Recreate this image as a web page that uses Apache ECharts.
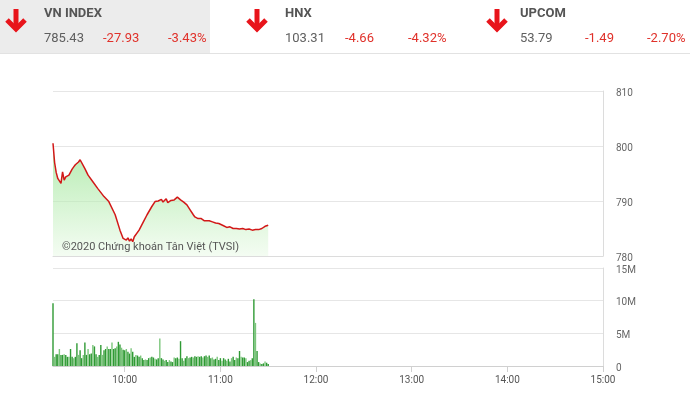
<!DOCTYPE html>
<html>
<head>
<meta charset="utf-8">
<script src="https://cdn.jsdelivr.net/npm/echarts@6/dist/echarts.min.js"></script>
<style>
html,body{margin:0;padding:0;background:#fff;}
#chart{width:690px;height:394px;}
</style>
</head>
<body>
<div id="chart"></div>
<script>
// ---- Header data ----
const indexNames = ['VN INDEX', 'HNX', 'UPCOM'];
const indexValues = ['785.43', '103.31', '53.79'];
const indexChanges = ['-27.93', '-4.66', '-1.49'];
const indexPercents = ['-3.43%', '-4.32%', '-2.70%'];

// ---- Price line (time, index value) ----
const priceTimes = ['9:15','9:16','9:17','9:18','9:20','9:21','9:22','9:23','9:24','9:25','9:26','9:27','9:28','9:29','9:30','9:31','9:32','9:33','9:35','9:37','9:40','9:43','9:47','9:50','9:54','9:57','9:59',
  '10:01','10:02','10:03','10:04','10:05','10:06','10:09','10:12','10:14','10:17','10:19','10:20','10:21','10:23','10:24','10:25','10:26','10:27','10:28','10:29','10:30','10:31','10:33','10:35','10:37','10:39','10:41','10:43','10:44','10:45','10:46','10:47','10:48','10:50','10:51','10:53','10:54','10:55','10:57','10:59',
  '11:00','11:02','11:04','11:06','11:08','11:10','11:12','11:14','11:16','11:17','11:18','11:20','11:22','11:24','11:26','11:28','11:30'];
const priceValues = [800.5,797.0,795.2,794.1,793.2,795.3,793.8,794.4,794.1,794.7,794.4,795.8,796.2,796.6,796.9,797.1,797.5,797.2,795.9,794.7,793.5,792.3,790.8,789.9,787.5,784.7,783.2,
  782.9,783.3,782.7,783.1,782.6,783.5,784.7,786.4,787.5,789.0,789.9,789.6,790.0,790.3,789.8,790.0,790.4,789.7,789.9,790.1,789.8,790.2,790.7,790.2,789.8,789.3,788.4,787.5,787.1,787.3,786.8,786.5,786.8,786.4,786.6,786.4,786.5,786.2,786.0,785.9,
  786.0,785.5,785.2,785.3,785.0,785.0,784.9,785.0,784.8,784.6,784.9,784.7,784.8,784.8,785.0,785.4,785.6];

// ---- Volume per minute from 9:15 (millions) ----
const volStartTime = '9:15';
const volValues = [
  9.6,1.4,1.8,1.8,2.6,1.7,1.7,1.8,1.7,1.4,1.4,2.6,1.4,1.2,1.4,3.5,1.7,2.4,1.2,1.7,3.6,1.7,2.6,1.8,1.9,3.2,3.0,1.8,1.4,1.7,3.2,1.7,2.4,2.6,3.0,2.6,2.6,3.6,2.6,2.7,3.0,3.7,3.3,2.8,2.5,
  2.4,2.6,2.2,1.9,2.7,2.2,1.4,1.7,1.6,1.4,1.6,1.2,0.9,1.0,0.9,1.2,1.3,1.4,1.3,1.1,1.0,1.2,4.2,1.2,1.0,0.8,0.9,0.6,0.9,0.7,0.6,1.3,1.2,1.3,1.1,3.8,1.2,0.8,1.2,1.5,1.2,1.3,1.4,1.3,1.5,1.4,1.5,
  1.4,1.5,1.3,1.5,1.6,1.4,1.6,1.2,1.3,1.0,1.1,1.4,0.9,1.2,0.8,1.2,1.0,0.8,1.1,0.7,1.2,1.4,0.9,1.3,1.2,2.3,1.4,1.3,1.3,1.2,0.6,0.8,0.9,1.2,10.2,6.6,2.3,0.6,0.4,0.3,0.4,0.7,0.5,0.3
];

// ---- Axis tick labels ----
const xTickLabels = ['10:00','11:00','12:00','13:00','14:00','15:00'];
const axisStart = '9:15';
const axisEnd = '15:00';

function toMin(t) { const p = t.split(':'); return (+p[0]) * 60 + (+p[1]); }
function fmtMin2(m) { const h = Math.floor(m / 60), mm = Math.round(m % 60); return (h < 10 ? '0' : '') + h + ':' + (mm < 10 ? '0' : '') + mm; }

const xMin = toMin(axisStart), xMax = toMin(axisEnd);
const tickVals = xTickLabels.map(toMin);
const priceData = priceTimes.map((t, i) => [toMin(t), priceValues[i]]);
const volData = volValues.map((v, i) => [toMin(volStartTime) + i, v]);

const RED = '#e0312a';
const GRAY = '#5f5f5f';
const FONT = 'Roboto, "Liberation Sans", sans-serif';

// header graphics
const nameX = [44, 285, 520], chgX = [103, 345, 585], pctX = [168, 408, 647], arrowX = [16, 257, 497];
const graphics = [
  { type: 'rect', left: 0, top: 0, shape: { width: 210, height: 53 }, style: { fill: '#ececec' }, silent: true, z: 0 },
  { type: 'line', shape: { x1: 0, y1: 53.5, x2: 690, y2: 53.5 }, style: { stroke: '#e2e2e2', lineWidth: 1 }, silent: true }
];
indexNames.forEach((n, i) => {
  const cx = arrowX[i];
  graphics.push({ type: 'line', shape: { x1: cx, y1: 9, x2: cx, y2: 28 }, style: { stroke: '#e8141b', lineWidth: 5 }, silent: true });
  graphics.push({ type: 'polyline', shape: { points: [[cx - 9, 20], [cx, 29], [cx + 9, 20]] }, style: { stroke: '#e8141b', lineWidth: 5, fill: null, lineJoin: 'miter' }, silent: true });
  graphics.push({ type: 'text', x: nameX[i], y: 14, style: { text: n, fill: '#555', font: 'bold 13px ' + FONT, textVerticalAlign: 'middle' }, silent: true });
  graphics.push({ type: 'text', x: nameX[i], y: 39, style: { text: indexValues[i], fill: GRAY, font: '13px ' + FONT, textVerticalAlign: 'middle' }, silent: true });
  graphics.push({ type: 'text', x: chgX[i], y: 39, style: { text: indexChanges[i], fill: RED, font: '13px ' + FONT, textVerticalAlign: 'middle' }, silent: true });
  graphics.push({ type: 'text', x: pctX[i], y: 39, style: { text: indexPercents[i], fill: RED, font: '13px ' + FONT, textVerticalAlign: 'middle' }, silent: true });
});
graphics.push({ type: 'text', x: 62, y: 247, z: 10, style: { text: '©2020 Chứng khoán Tân Việt (TVSI)', fill: '#555', font: '11px ' + FONT, textVerticalAlign: 'middle' }, silent: true });

const chart = echarts.init(document.getElementById('chart'), null, { renderer: 'canvas' });
chart.setOption({
  animation: false,
  backgroundColor: '#fff',
  graphic: graphics,
  grid: [
    { left: 53, right: 87, top: 91, height: 165 },
    { left: 53, right: 87, top: 268, height: 98 }
  ],
  xAxis: [
    { gridIndex: 0, type: 'value', min: xMin, max: xMax,
      axisLine: { show: true, onZero: false, lineStyle: { color: '#dcdcdc' } },
      axisTick: { show: false }, axisLabel: { show: false }, splitLine: { show: false } },
    { gridIndex: 1, type: 'value', min: xMin, max: xMax,
      axisLine: { show: true, onZero: false, lineStyle: { color: '#d0d0d0' } },
      axisTick: { show: true, customValues: tickVals, length: 6, lineStyle: { color: '#d0d0d0' } },
      axisLabel: { customValues: tickVals, formatter: v => fmtMin2(v), color: '#555', fontSize: 10, fontFamily: FONT, margin: 9 },
      splitLine: { show: false } }
  ],
  yAxis: [
    { gridIndex: 0, type: 'value', position: 'right', min: 780, max: 810, interval: 10,
      axisLine: { show: true, lineStyle: { color: '#dcdcdc' } }, axisTick: { show: false },
      axisLabel: { color: '#666', fontSize: 10, fontFamily: FONT, margin: 13, verticalAlign: 'top', padding: [-3, 0, 0, 0] },
      splitLine: { show: true, lineStyle: { color: '#e6e6e6' } } },
    { gridIndex: 1, type: 'value', position: 'right', min: 0, max: 15, interval: 5,
      axisLine: { show: true, lineStyle: { color: '#dcdcdc' } }, axisTick: { show: false },
      axisLabel: { color: '#666', fontSize: 10, fontFamily: FONT, margin: 13, verticalAlign: 'top', padding: [-3, 0, 0, 0], formatter: v => v === 0 ? '0' : v + 'M' },
      splitLine: { show: true, lineStyle: { color: '#e6e6e6' } } }
  ],
  series: [
    { type: 'line', xAxisIndex: 0, yAxisIndex: 0, data: priceData, symbol: 'none', smooth: false,
      lineStyle: { color: '#d21818', width: 1.5 },
      areaStyle: { origin: 'start', color: new echarts.graphic.LinearGradient(0, 0, 0, 1, [
        { offset: 0, color: 'rgba(128,222,120,0.85)' },
        { offset: 1, color: 'rgba(235,250,232,0.8)' }
      ]) } },
    { type: 'bar', xAxisIndex: 1, yAxisIndex: 1, data: volData, barWidth: 1.4,
      itemStyle: { color: p => (p.dataIndex % 3 === 1 ? '#7cc67c' : '#2f9a34') } }
  ]
});
</script>
</body>
</html>
